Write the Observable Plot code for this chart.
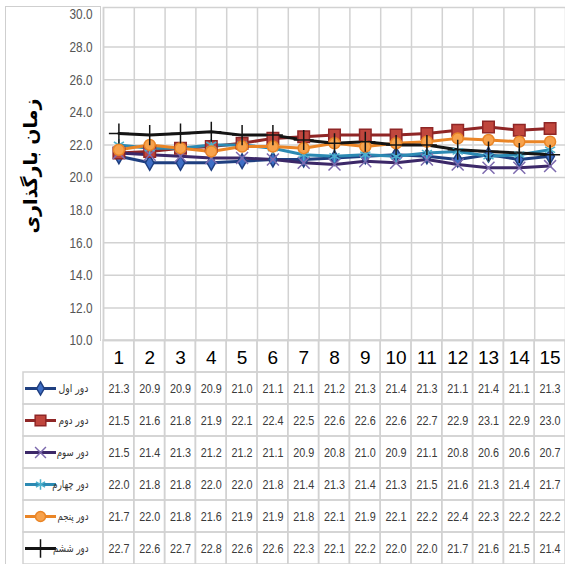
<!DOCTYPE html>
<html>
<head>
<meta charset="utf-8">
<script src="https://cdn.jsdelivr.net/npm/d3@7"></script>
<script src="https://cdn.jsdelivr.net/npm/@observablehq/plot@0.6"></script>
<style>
  html, body { margin: 0; padding: 0; background: #fff; }
  #wrap { position: relative; width: 565px; height: 564px; overflow: hidden; }
  #box { position: absolute; left: 5px; top: 6px; width: 94px; height: 334px; border: 1px solid #cfcfcf; border-bottom: none; }
  #lline { position: absolute; left: 5px; top: 340px; width: 0; height: 230px; border-left: 1px solid #cfcfcf; }
  #chart, #table { position: absolute; left: 0; }
  #chart { top: 0; }
  #table { top: 340px; }
  svg { overflow: visible; }
</style>
</head>
<body>
<div id="wrap">
  <div id="box"></div>
  <div id="lline"></div>
  <div id="chart"></div>
  <div id="table"></div>
</div>
<script>
// ---- data ----
const categories = [1, 2, 3, 4, 5, 6, 7, 8, 9, 10, 11, 12, 13, 14, 15];
const seriesNames = ["دور اول", "دور دوم", "دور سوم", "دور چهارم", "دور پنجم", "دور ششم"];
const round1 = [21.3, 20.9, 20.9, 20.9, 21.0, 21.1, 21.1, 21.2, 21.3, 21.4, 21.3, 21.1, 21.4, 21.1, 21.3];
const round2 = [21.5, 21.6, 21.8, 21.9, 22.1, 22.4, 22.5, 22.6, 22.6, 22.6, 22.7, 22.9, 23.1, 22.9, 23.0];
const round3 = [21.5, 21.4, 21.3, 21.2, 21.2, 21.1, 20.9, 20.8, 21.0, 20.9, 21.1, 20.8, 20.6, 20.6, 20.7];
const round4 = [22.0, 21.8, 21.8, 22.0, 22.0, 21.8, 21.4, 21.3, 21.4, 21.3, 21.5, 21.6, 21.3, 21.4, 21.7];
const round5 = [21.7, 22.0, 21.8, 21.6, 21.9, 21.9, 21.8, 22.1, 21.9, 22.1, 22.2, 22.4, 22.3, 22.2, 22.2];
const round6 = [22.7, 22.6, 22.7, 22.8, 22.6, 22.6, 22.3, 22.1, 22.2, 22.0, 22.0, 21.7, 21.6, 21.5, 21.4];
const yTicks = [10, 12, 14, 16, 18, 20, 22, 24, 26, 28, 30];
const yTickLabels = ["10.0", "12.0", "14.0", "16.0", "18.0", "20.0", "22.0", "24.0", "26.0", "28.0", "30.0"];
const yTitle = "زمان بارگذاری";

// ---- styles ----
const styles = [
  {line: "#1f3f80", fill: "#3f6fc6", stroke: "#1f3f80", symbol: "diamond", r: 4.5},
  {line: "#8f2626", fill: "#c0463d", stroke: "#8f2626", symbol: "square", r: 6.5},
  {line: "#3c2868", fill: "none", stroke: "#7d6aae", symbol: "times", r: 5.5},
  {line: "#2c8ab3", fill: "none", stroke: "#4bb0cc", symbol: "asterisk", r: 5.5},
  {line: "#ea8526", fill: "#f7a24c", stroke: "#ea8526", symbol: "circle", r: 5.5},
  {line: "#141414", fill: "none", stroke: "#141414", symbol: "plus", r: 6.5}
];

const allValues = [round1, round2, round3, round4, round5, round6];
const series = seriesNames.map((name, i) => ({
  name, row: i + 1, style: styles[i],
  points: categories.map((c, j) => ({cat: c, value: allValues[i][j], name, row: i + 1}))
}));

const W = 565, left = 103;
const xScale = {domain: [0.5, 15.5], range: [left, W]};
const colW = (W - left) / categories.length;
const px2x = px => 0.5 + (px - left) / colW;
const grid = "#d2d2d2";
const numFont = "'Liberation Sans', Arial, sans-serif";

// ---- chart ----
const chartMarks = [
  Plot.ruleY(yTicks.filter(t => t < 30), {stroke: grid, strokeWidth: 1.5}),
  Plot.ruleX(categories.map(c => c - 0.5), {stroke: grid, strokeWidth: 1.5}),
  Plot.frame({stroke: grid, strokeWidth: 1.5}),
  Plot.text(yTicks, {
    y: d => d, text: (d, i) => yTickLabels[i], frameAnchor: "left", dx: -11, textAnchor: "end",
    fontSize: 15, fontFamily: numFont, fill: "#555"
  }),
  Plot.text([yTitle], {
    frameAnchor: "left", textAnchor: "middle", dx: -73, dy: -8, rotate: -90, fontSize: 19, fontWeight: "bold",
    fontFamily: "'DejaVu Sans', sans-serif", fill: "#000"
  })
];
for (const s of series) {
  chartMarks.push(Plot.line(s.points, {x: "cat", y: "value", stroke: s.style.line, strokeWidth: 3}));
}
for (const s of series) {
  chartMarks.push(Plot.dot(s.points, {
    x: "cat", y: "value", symbol: () => s.style.symbol, r: s.style.r,
    fill: s.style.fill, stroke: s.style.stroke, strokeWidth: 1.5
  }));
}
const chart = Plot.plot({
  width: W, height: 340,
  marginLeft: left, marginRight: 0, marginTop: 7, marginBottom: 0,
  x: {...xScale, axis: null},
  y: {domain: [10, 30], range: [340, 14], axis: null},
  symbol: {type: "identity"},
  style: {background: "transparent"},
  marks: chartMarks
});
document.getElementById("chart").append(chart);

// ---- table ----
const headerCells = categories.map(c => ({cat: c}));
const valueCells = series.flatMap(s => s.points);
const tableMarks = [
  Plot.rect(headerCells, {x1: d => d.cat - 0.5, x2: d => d.cat + 0.5, y1: 0, y2: 1, stroke: grid, strokeWidth: 1.5, fill: "none"}),
  Plot.rect(valueCells, {x1: d => d.cat - 0.5, x2: d => d.cat + 0.5, y1: d => d.row, y2: d => d.row + 1, stroke: grid, strokeWidth: 1.5, fill: "none"}),
  Plot.rect(series, {x1: px2x(23), x2: 0.5, y1: d => d.row, y2: d => d.row + 1, stroke: grid, strokeWidth: 1.5, fill: "none"})
];
for (const s of series) {
  tableMarks.push(Plot.ruleY([s], {y: d => d.row + 0.5, x1: px2x(25), x2: px2x(56), stroke: s.style.line, strokeWidth: 3}));
  tableMarks.push(Plot.dot([s], {
    x: px2x(40), y: d => d.row + 0.5, symbol: () => s.style.symbol, r: s.style.r - 0.5,
    fill: s.style.fill, stroke: s.style.stroke, strokeWidth: 1.5
  }));
}
tableMarks.push(
  Plot.text(headerCells, {x: "cat", y: 0.5, text: d => String(d.cat), fontSize: 19, fontFamily: numFont, fill: "#000", dy: 1}),
  Plot.text(valueCells, {
    x: "cat", y: d => d.row + 0.5, text: d => d.value.toFixed(1), fontSize: 13.5,
    fontFamily: numFont, fill: "#3a3a3a"
  }),
  Plot.text(series, {
    x: 0.5, y: d => d.row + 0.5, text: "name", dx: -15, textAnchor: "end", fontSize: 11,
    fontFamily: "'DejaVu Sans', sans-serif", fill: "#333"
  })
);
const table = Plot.plot({
  width: W, height: 224,
  marginLeft: 0, marginRight: 0, marginTop: 0, marginBottom: 0,
  x: {...xScale, axis: null},
  y: {domain: [0, 7], range: [0, 224], axis: null},
  symbol: {type: "identity"},
  style: {background: "transparent"},
  marks: tableMarks
});
document.getElementById("table").append(table);

// condense numeric labels and legend names (the reference uses a narrow face)
d3.select(chart).selectAll("text").filter(function() { return /^\d+\.\d$/.test(this.textContent); })
  .attr("textLength", 23).attr("lengthAdjust", "spacingAndGlyphs");
d3.select(table).selectAll("text").filter(function() { return /^\d+\.\d$/.test(this.textContent); })
  .attr("textLength", 21).attr("lengthAdjust", "spacingAndGlyphs");
d3.select(table).selectAll("text").filter(function() { return /^دور/.test(this.textContent); })
  .each(function() {
    const w = this.getComputedTextLength();
    if (w > 30) d3.select(this).attr("textLength", Math.max(30, w * 0.78)).attr("lengthAdjust", "spacingAndGlyphs");
  });
</script>
</body>
</html>
